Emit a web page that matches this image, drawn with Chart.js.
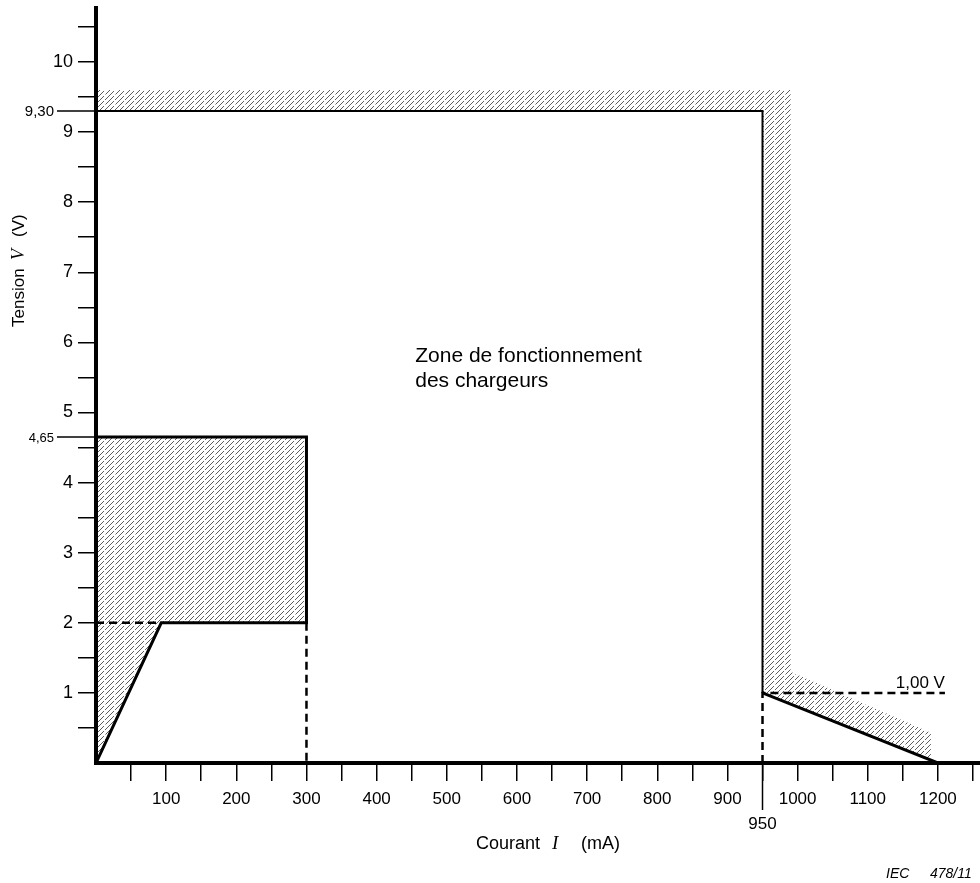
<!DOCTYPE html>
<html>
<head>
<meta charset="utf-8">
<script src="https://cdn.jsdelivr.net/npm/chart.js@4.4.1/dist/chart.umd.min.js"></script>
<style>
  html, body { margin: 0; padding: 0; background: #fff; }
  #wrap { width: 980px; height: 883px; }
</style>
</head>
<body>
<div id="wrap"><canvas id="chart" width="980" height="883"></canvas></div>
<script>
/* Zone de fonctionnement des chargeurs — V (V) against I (mA) */

const FONT = "'Liberation Sans', Arial, sans-serif";
const SERIF = "'Liberation Serif', 'Times New Roman', serif";

// tick labels
const xLabels = [100, 200, 300, 400, 500, 600, 700, 800, 900, 1000, 1100, 1200];
const yLabels = [1, 2, 3, 4, 5, 6, 7, 8, 9, 10];
const markedV = [9.30, 4.65];   // long ticks on the V axis
const markedI = 950;            // long tick on the I axis

// outlines, [mA, V]
const limitLine = [[0, 9.30], [950, 9.30], [950, 1.00]];
const dropLine  = [[950, 1.00], [1200, 0]];
const guide1V   = [[950, 0], [950, 1.00], [1210, 1.00]];
const lowBox    = [[0, 0], [93, 2], [300, 2], [300, 4.65], [0, 4.65]];
const guide2V   = [[0, 2], [93, 2]];
const guide300  = [[300, 2], [300, 0]];

// hatched zones, [mA, V]
const hatchUpper = [[0, 9.30], [0, 9.60], [990, 9.60], [990, 1.30], [1190, 0.43], [1190, 0.04], [950, 1.00], [950, 9.30]];
const hatchLower = [[0, 0], [0, 4.65], [300, 4.65], [300, 2], [93, 2]];

const pts = a => a.map(([x, y]) => ({ x, y }));

// "////" hatch, lines broken into short dashes
function makeHatch() {
  const s = 10;
  const c = document.createElement('canvas');
  c.width = s; c.height = s;
  const g = c.getContext('2d');
  g.strokeStyle = 'rgba(0,0,0,0.8)';
  g.lineWidth = 0.8;
  g.beginPath();
  // lines x + y = 5 and x + y = 15, each with one small gap
  g.moveTo(0, 5); g.lineTo(4, 1);
  g.moveTo(5, 10); g.lineTo(10, 5);
  g.moveTo(-1, 1); g.lineTo(1, -1);
  // lines x + y = 10 (plus wrap at the corners)
  g.moveTo(0, 10); g.lineTo(4, 6);
  g.moveTo(5.5, 4.5); g.lineTo(10, 0);
  g.moveTo(9, 11); g.lineTo(11, 9);
  g.stroke();
  return g.createPattern(c, 'repeat');
}
const hatch = makeHatch();

const hatchSet = data => ({
  data: pts(data), fill: 'shape', backgroundColor: hatch,
  borderColor: 'rgba(0,0,0,0)', borderWidth: 0, pointRadius: 0, order: 2
});
const strokeSet = (data, width, dash) => ({
  data: pts(data), fill: false, borderColor: '#000', borderWidth: width,
  borderDash: dash || [], pointRadius: 0, tension: 0, order: 1,
  borderJoinStyle: 'miter', borderCapStyle: 'butt'
});

const extras = {
  id: 'extras',
  beforeDraw(chart) {
    const { ctx, width, height } = chart;
    ctx.save();
    ctx.fillStyle = '#fff';
    ctx.fillRect(0, 0, width, height);
    ctx.restore();
  },
  afterDraw(chart) {
    const { ctx, scales: { x, y } } = chart;
    ctx.save();
    ctx.strokeStyle = '#000';
    ctx.fillStyle = '#000';
    ctx.lineWidth = 1.5;

    // 9,30 and 4,65
    markedV.forEach((v, i) => {
      const py = y.getPixelForValue(v);
      ctx.beginPath(); ctx.moveTo(57, py); ctx.lineTo(x.left, py); ctx.stroke();
      ctx.font = (i === 0 ? 15 : 13) + 'px ' + FONT;
      ctx.textAlign = 'right'; ctx.textBaseline = 'middle';
      ctx.fillText(v.toFixed(2).replace('.', ','), 54, py + 1);
    });

    // 950
    const px = x.getPixelForValue(markedI);
    ctx.beginPath(); ctx.moveTo(px, y.bottom); ctx.lineTo(px, 810); ctx.stroke();
    ctx.font = '17px ' + FONT;
    ctx.textAlign = 'center'; ctx.textBaseline = 'middle';
    ctx.fillText(String(markedI), px, 824);

    // 1,00 V
    ctx.textAlign = 'right'; ctx.textBaseline = 'alphabetic';
    ctx.fillText('1,00 V', x.getPixelForValue(1210), y.getPixelForValue(1) - 5);

    // zone label
    ctx.font = '21px ' + FONT;
    ctx.textAlign = 'left'; ctx.textBaseline = 'middle';
    const zx = x.getPixelForValue(455), zy = y.getPixelForValue(5.81);
    ctx.fillText('Zone de fonctionnement', zx, zy);
    ctx.fillText('des chargeurs', zx, zy + 25);

    // x title
    ctx.textBaseline = 'alphabetic';
    ctx.font = '18px ' + FONT;
    ctx.fillText('Courant', 476, 849);
    ctx.font = 'italic 19px ' + SERIF;
    ctx.fillText('I', 552, 849);
    ctx.font = '18px ' + FONT;
    ctx.fillText('(mA)', 581, 849);

    // y title
    ctx.save();
    ctx.translate(24, 327);
    ctx.rotate(-Math.PI / 2);
    ctx.font = '17px ' + FONT;
    ctx.fillText('Tension', 0, 0);
    ctx.font = 'italic 18px ' + SERIF;
    ctx.fillText('V', 67, 0);
    ctx.font = '17px ' + FONT;
    ctx.fillText('(V)', 90, 0);
    ctx.restore();

    // figure reference
    ctx.font = 'italic 14px ' + FONT;
    ctx.textBaseline = 'middle';
    ctx.fillText('IEC', 886, 874);
    ctx.fillText('478/11', 930, 874);

    ctx.restore();
  }
};

const hideZero = c => (c.tick && c.tick.value === 0 ? 'rgba(0,0,0,0)' : '#000');

new Chart(document.getElementById('chart'), {
  type: 'line',
  data: {
    datasets: [
      strokeSet(limitLine, 2),
      strokeSet(dropLine, 3),
      strokeSet(guide1V, 2.5, [8, 5]),
      strokeSet(lowBox, 3),
      strokeSet(guide2V, 2.5, [8, 5]),
      strokeSet(guide300, 2.5, [8, 5]),
      hatchSet(hatchUpper),
      hatchSet(hatchLower)
    ]
  },
  options: {
    responsive: false,
    animation: false,
    events: [],
    layout: { padding: { top: 8, left: 0, right: 0, bottom: 0 } },
    plugins: { legend: { display: false }, tooltip: { enabled: false } },
    scales: {
      x: {
        type: 'linear', min: 0, max: 1260,
        afterFit: s => { s.height = 120; s.paddingLeft = 0; s.paddingRight = 0; },
        border: { display: true, color: '#000', width: 4 },
        grid: { drawOnChartArea: false, drawTicks: true, tickLength: 18, lineWidth: 1.5, color: hideZero },
        ticks: {
          stepSize: 50, autoSkip: false, maxRotation: 0, includeBounds: false,
          color: '#000', padding: 8, font: { family: FONT, size: 17 },
          callback: v => (xLabels.includes(v) ? String(v) : '')
        }
      },
      y: {
        type: 'linear', min: 0, max: 10.77,
        afterFit: s => { s.width = 96; s.paddingTop = 0; s.paddingBottom = 0; },
        border: { display: true, color: '#000', width: 4 },
        grid: { drawOnChartArea: false, drawTicks: true, tickLength: 18, lineWidth: 1.5, color: hideZero },
        ticks: {
          stepSize: 0.5, autoSkip: false, includeBounds: false,
          color: '#000', padding: 5, font: { family: FONT, size: 18 },
          callback: v => (yLabels.includes(v) ? String(v) : '')
        }
      }
    }
  },
  plugins: [extras]
});
</script>
</body>
</html>
